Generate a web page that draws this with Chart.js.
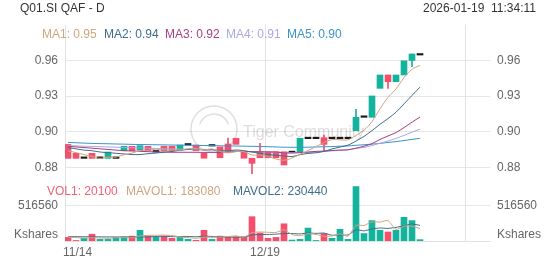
<!DOCTYPE html>
<html>
<head>
<meta charset="utf-8">
<script src="https://cdn.jsdelivr.net/npm/chart.js@4.4.1/dist/chart.umd.min.js"></script>
<style>
  html, body { margin: 0; padding: 0; background: #fff; }
  #wrap { position: relative; width: 552px; height: 265px; }
  canvas { position: absolute; left: 0; }
  #price { top: 0; }
  #vol { top: 180px; }
</style>
</head>
<body>
<div id="wrap">
  <canvas id="price" width="552" height="180"></canvas>
  <canvas id="vol" width="552" height="85"></canvas>
</div>
<script>
const TITLE = 'Q01.SI QAF - D';
const STAMP = '2026-01-19  11:34:11';
const xLabels = ['11/14', '12/19'];
const xLabelIdx = [0, 25];
const gridIdx = [0, 25, 50];

const opens = [0.894, 0.887, 0.883, 0.887, 0.883, 0.883, 0.883, 0.889, 0.8925, 0.8895,
  0.8925, 0.888, 0.8925, 0.8925, 0.8895, 0.8935, 0.8935, 0.887, 0.8927, 0.892,
  0.8943, 0.8988, 0.8882, 0.8831, 0.8882, 0.8882, 0.8882, 0.8882, 0.8875, 0.8882,
  0.8985, 0.8985, 0.8993, 0.8985, 0.8985, 0.8985, 0.9048, 0.9153, 0.9153, 0.9381,
  0.9486, 0.9433, 0.9486, 0.96, 0.9643];
const closes = [0.883, 0.883, 0.883, 0.883, 0.883, 0.888, 0.883, 0.8925, 0.889, 0.893,
  0.889, 0.888, 0.889, 0.889, 0.8935, 0.8935, 0.889, 0.8831, 0.8927, 0.8835,
  0.8884, 0.894, 0.8831, 0.8791, 0.8835, 0.8835, 0.8835, 0.8778, 0.8875, 0.8988,
  0.8985, 0.8985, 0.894, 0.8985, 0.8985, 0.8985, 0.9153, 0.9153, 0.9321, 0.9486,
  0.9433, 0.9486, 0.9598, 0.9651, 0.9643];
// only the candles whose wick shows past the body
const wickIdx = [20, 23, 24, 32, 36, 40, 43];
const wickLow = [0.8884, 0.871, 0.8835, 0.8885, 0.9048, 0.9381, 0.9551];
const wickHigh = [0.899, 0.8831, 0.8949, 0.9014, 0.9216, 0.9486, 0.9651];

const volumes = [53000, 8000, 39000, 100000, 24000, 24000, 53000, 62000, 72000, 158000,
  72000, 62000, 72000, 39000, 53000, 24000, 10000, 158000, 24000, 72000,
  62000, 62000, 62000, 359000, 119000, 39000, 53000, 254000, 14000, 24000,
  191000, 8000, 110000, 39000, 172000, 24000, 803000, 110000, 301000, 158000,
  133000, 158000, 349000, 301000, 20100];

const ma1 = [0.889, 0.8875, 0.886, 0.8845, 0.883, 0.884, 0.884, 0.8859, 0.8871, 0.8891,
  0.8893, 0.8903, 0.8896, 0.8896, 0.8897, 0.8906, 0.8908, 0.8896, 0.8904, 0.8884,
  0.8873, 0.8883, 0.8883, 0.8856, 0.8856, 0.8846, 0.8825, 0.8815, 0.8832, 0.8862,
  0.8892, 0.8922, 0.8955, 0.8977, 0.8976, 0.8976, 0.901, 0.9052, 0.9119, 0.922,
  0.9309, 0.9376, 0.9465, 0.9531, 0.9562];
const ma2 = [0.8915, 0.8905, 0.8895, 0.889, 0.888, 0.8875, 0.887, 0.8865, 0.886, 0.886,
  0.8867, 0.8872, 0.8878, 0.8884, 0.8894, 0.89, 0.8906, 0.8896, 0.89, 0.889,
  0.889, 0.8896, 0.889, 0.888, 0.887, 0.886, 0.8854, 0.8849, 0.8844, 0.8859,
  0.8869, 0.8874, 0.8885, 0.8904, 0.8919, 0.8934, 0.8966, 0.9003, 0.9048, 0.9098,
  0.9143, 0.9193, 0.9259, 0.9325, 0.9391];
const ma3 = [0.8925, 0.892, 0.8915, 0.891, 0.8905, 0.89, 0.8895, 0.889, 0.8888, 0.8885,
  0.8883, 0.888, 0.888, 0.8878, 0.8878, 0.8878, 0.8878, 0.8877, 0.8877, 0.8877,
  0.8878, 0.8884, 0.8884, 0.8882, 0.8882, 0.888, 0.888, 0.8873, 0.8872, 0.8875,
  0.888, 0.8885, 0.8887, 0.8892, 0.8895, 0.8897, 0.891, 0.8926, 0.8946, 0.8979,
  0.9006, 0.9033, 0.9072, 0.9115, 0.9155];
const ma4 = [0.893, 0.8928, 0.8926, 0.8924, 0.8922, 0.892, 0.8918, 0.8916, 0.8914, 0.8912,
  0.891, 0.8908, 0.8906, 0.8904, 0.8902, 0.89, 0.8898, 0.8896, 0.8894, 0.8892,
  0.889, 0.8888, 0.8886, 0.8884, 0.8882, 0.888, 0.8878, 0.8876, 0.8875, 0.8875,
  0.8875, 0.888, 0.8884, 0.8889, 0.8894, 0.8898, 0.8909, 0.8916, 0.8931, 0.8949,
  0.8967, 0.8987, 0.9011, 0.9036, 0.906];
const ma5 = [0.8955, 0.8953, 0.895, 0.8948, 0.8946, 0.8945, 0.8943, 0.8942, 0.894, 0.8939,
  0.8938, 0.8937, 0.8936, 0.8935, 0.8934, 0.8933, 0.8932, 0.8931, 0.893, 0.8929,
  0.8928, 0.8927, 0.8926, 0.8925, 0.8924, 0.8922, 0.892, 0.8918, 0.8917, 0.8917,
  0.8918, 0.892, 0.8921, 0.8923, 0.8926, 0.8928, 0.8933, 0.8937, 0.8942, 0.8948,
  0.8955, 0.8962, 0.897, 0.8979, 0.8988];

const mavol1 = [60000, 50000, 45000, 50000, 44800, 39000, 48000, 52600, 47000, 73800,
  83400, 85200, 87200, 80600, 59600, 50000, 39600, 56800, 53800, 57600,
  65200, 75600, 56400, 123400, 132800, 128200, 126400, 164800, 95800, 76800,
  107200, 98200, 69400, 74400, 104000, 70600, 229600, 229600, 282000, 279200,
  301000, 172000, 219800, 219800, 183080];
const mavol2 = [65000, 64000, 63000, 62000, 61000, 60000, 60000, 59500, 59000, 59300,
  61200, 66600, 69900, 63800, 66700, 66700, 62400, 72000, 67200, 58600,
  57600, 57600, 56600, 88600, 95200, 96700, 101000, 110600, 109600, 104800,
  117700, 112300, 117100, 85100, 90400, 88900, 163900, 149500, 178200, 191600,
  185800, 200800, 224700, 250900, 230440];

const maLegend = ['MA1: 0.95', 'MA2: 0.94', 'MA3: 0.92', 'MA4: 0.91', 'MA5: 0.90'];
const volLegend = ['VOL1: 20100', 'MAVOL1: 183080', 'MAVOL2: 230440'];
const priceTicks = [0.876, 0.904, 0.932, 0.96];
const priceTickLabels = ['0.88', '0.90', '0.93', '0.96'];
const volTick = 516560;
const volUnit = 'Kshares';

const UP = '#14b39d', DOWN = '#f2506d', DOJI = '#1a1a1a';
const MA_COLORS = ['#cfa57f', '#3f6e8d', '#a73f80', '#a9a7e6', '#3a94c9'];
const GRID = '#e6e6e6';
const FONT = '"Liberation Sans", Arial, sans-serif';
const X_MIN = -0.375, X_MAX = 52.75, SHIFT = -0.375;

Chart.defaults.font.family = FONT;
Chart.defaults.font.size = 12;
Chart.defaults.color = '#666';

const idx = closes.map((_, i) => i);
const candleColor = i => closes[i] > opens[i] ? UP : closes[i] < opens[i] ? DOWN : DOJI;
const volColor = i => closes[i] >= opens[i] ? UP : DOWN;

const texts = {
  id: 'texts',
  afterDraw(chart, args, opts) {
    const ctx = chart.ctx;
    ctx.save();
    ctx.font = '12px ' + FONT;
    ctx.textBaseline = 'middle';
    (opts.items || []).forEach(t => {
      ctx.fillStyle = t.color;
      ctx.textAlign = t.align || 'left';
      ctx.fillText(t.text, t.x, t.y);
    });
    ctx.restore();
  }
};

const watermark = {
  id: 'watermark',
  beforeDatasetsDraw(chart) {
    const ctx = chart.ctx;
    ctx.save();
    ctx.strokeStyle = 'rgba(0,0,0,0.13)';
    ctx.lineWidth = 1.5;
    ctx.beginPath(); ctx.arc(214, 129, 23, 0, Math.PI * 2); ctx.stroke();
    ctx.beginPath(); ctx.arc(214, 129, 15, Math.PI * 1.1, Math.PI * 1.9); ctx.stroke();
    ctx.fillStyle = 'rgba(0,0,0,0.14)';
    ctx.font = '16px ' + FONT;
    ctx.textBaseline = 'middle';
    ctx.fillText('Tiger Community', 243, 133);
    ctx.restore();
  }
};

const xLabelPlugin = {
  id: 'xlabels',
  afterDraw(chart) {
    const ctx = chart.ctx, xs = chart.scales.x, area = chart.chartArea;
    ctx.save();
    ctx.font = '12px ' + FONT;
    ctx.fillStyle = '#666';
    ctx.textBaseline = 'middle';
    ctx.textAlign = 'left';
    xLabels.forEach((lab, k) => {
      const px = xs.getPixelForValue(xLabelIdx[k] + SHIFT);
      const w = ctx.measureText(lab).width;
      ctx.fillText(lab, Math.max(area.left - 2, px - w / 2), 73);
    });
    ctx.restore();
  }
};

function xAxis(border) {
  return {
    type: 'linear', min: X_MIN, max: X_MAX, offset: false,
    afterBuildTicks: s => { s.ticks = gridIdx.map(v => ({ value: v + SHIFT })); },
    afterFit: s => { s.height = 0; s.paddingLeft = 0; s.paddingRight = 0; },
    ticks: { display: false },
    grid: { color: '#e2e2e2', drawTicks: false, offset: false },
    border: { display: border, color: '#e2e2e2' },
  };
}

function yAxis(pos, min, max, buildTicks, label, gridColor) {
  return {
    position: pos, min, max,
    afterBuildTicks: buildTicks,
    // fixed gutters; labels may overhang the plot edges
    afterFit: s => { s.width = pos === 'left' ? 65 : 62; s.paddingTop = 0; s.paddingBottom = 0; },
    ticks: { padding: 7, callback: label, color: '#666' },
    grid: { display: pos === 'left', color: gridColor, drawTicks: false },
    border: { display: false },
  };
}

const P_MIN = 0.86598, P_MAX = 0.98793;
const priceBuild = s => { s.ticks = priceTicks.map(v => ({ value: v })); };
const priceLabel = v => priceTickLabels[priceTicks.indexOf(v)];

const maSets = [ma1, ma2, ma3, ma4, ma5].map((arr, k) => ({
  type: 'line', label: 'MA' + (k + 1), order: 0,
  data: arr.map((v, i) => ({ x: i, y: v })),
  borderColor: MA_COLORS[k], borderWidth: 1, pointRadius: 0, tension: 0.3,
}));

new Chart(document.getElementById('price'), {
  data: {
    datasets: [
      {
        type: 'bar', order: 2, grouped: false, barThickness: 1,
        data: wickIdx.map((i, k) => ({ x: i, y: [wickLow[k], wickHigh[k]] })),
        backgroundColor: wickIdx.map(candleColor),
      },
      {
        type: 'bar', order: 1, grouped: false, barThickness: 6, minBarLength: 1.5,
        data: idx.map(i => ({ x: i, y: [opens[i], closes[i]] })),
        backgroundColor: idx.map(candleColor),
      },
      ...maSets,
    ],
  },
  options: {
    responsive: false, animation: false, events: [],
    layout: { autoPadding: false, padding: { top: 25, bottom: 0, left: 0, right: 0 } },
    scales: {
      x: xAxis(false),
      y: yAxis('left', P_MIN, P_MAX, priceBuild, priceLabel, GRID),
      y2: yAxis('right', P_MIN, P_MAX, priceBuild, priceLabel, GRID),
    },
    plugins: {
      legend: { display: false }, tooltip: { enabled: false },
      texts: {
        items: [
          { text: TITLE, x: 20, y: 9, color: '#333' },
          { text: STAMP, x: 536, y: 9, color: '#333', align: 'right' },
          ...maLegend.map((t, k) => ({ text: t, x: [42, 104, 165, 226, 287][k], y: 35, color: MA_COLORS[k] })),
        ],
      },
    },
  },
  plugins: [watermark, texts],
});

const V_MAX = 900000;
const volBuild = s => { s.ticks = [{ value: V_MAX * 0.1 }, { value: volTick }]; };
const volLabel = v => v === volTick ? String(volTick) : volUnit;
const volGrid = c => c.tick && c.tick.value === volTick ? GRID : 'rgba(0,0,0,0)';

new Chart(document.getElementById('vol'), {
  data: {
    datasets: [
      {
        type: 'bar', order: 1, barThickness: 6,
        data: idx.map(i => ({ x: i, y: volumes[i] })),
        backgroundColor: idx.map(volColor),
      },
      {
        type: 'line', order: 0, data: mavol1.map((v, i) => ({ x: i, y: v })),
        borderColor: MA_COLORS[0], borderWidth: 1, pointRadius: 0, tension: 0.2,
      },
      {
        type: 'line', order: 0, data: mavol2.map((v, i) => ({ x: i, y: v })),
        borderColor: MA_COLORS[1], borderWidth: 1, pointRadius: 0, tension: 0.2,
      },
    ],
  },
  options: {
    responsive: false, animation: false, events: [],
    layout: { autoPadding: false, padding: { top: 0, bottom: 24, left: 0, right: 0 } },
    scales: {
      x: xAxis(true),
      y: yAxis('left', 0, V_MAX, volBuild, volLabel, volGrid),
      y2: yAxis('right', 0, V_MAX, volBuild, volLabel, volGrid),
    },
    plugins: {
      legend: { display: false }, tooltip: { enabled: false },
      texts: {
        items: volLegend.map((t, k) => ({
          text: t, x: [47, 126, 233][k], y: 12,
          color: ['#f0607a', MA_COLORS[0], MA_COLORS[1]][k],
        })),
      },
    },
  },
  plugins: [texts, xLabelPlugin],
});
</script>
</body>
</html>
